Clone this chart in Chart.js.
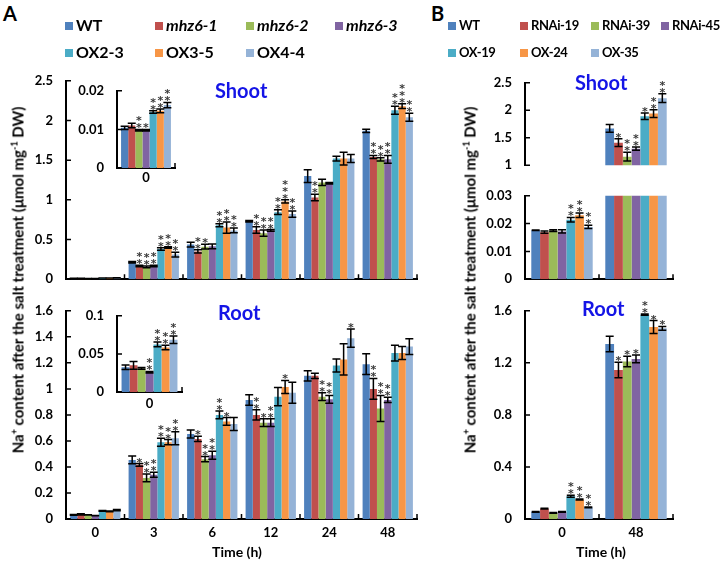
<!DOCTYPE html>
<html><head><meta charset="utf-8">
<script src="https://cdn.jsdelivr.net/npm/chart.js@4.4.1/dist/chart.umd.min.js"></script>
<style>
body{margin:0;background:#fff;}
#page{position:relative;width:722px;height:561px;overflow:hidden;font-family:Lato,'Open Sans',sans-serif;font-weight:bold;color:#000;background:#fff;}
canvas{position:absolute;}
.t{position:absolute;white-space:nowrap;line-height:1;}
.sq{position:absolute;width:8px;height:8px;}
.ytitle{position:absolute;white-space:nowrap;font-size:15px;line-height:1;transform:translate(-50%,-50%) rotate(-90deg);}
sup{font-size:9px;vertical-align:6px;line-height:0;}
</style></head><body>
<div id="page"></div>
<script>
// ---------------- DATA ----------------
const seriesA = ['WT','mhz6-1','mhz6-2','mhz6-3','OX2-3','OX3-5','OX4-4'];
const seriesB = ['WT','RNAi-19','RNAi-39','RNAi-45','OX-19','OX-24','OX-35'];
const timesA = ['0','3','6','12','24','48'];
const timesB = ['0','48'];

// Panel A shoot (rows = series, columns = timesA)
const shootA = [
  [0.0104, 0.214, 0.436, 0.73, 1.30, 1.87],
  [0.0110, 0.167, 0.35, 0.62, 1.03, 1.54],
  [0.0098, 0.155, 0.41, 0.58, 1.22, 1.51],
  [0.0098, 0.167, 0.415, 0.615, 1.21, 1.51],
  [0.0145, 0.38, 0.68, 0.845, 1.52, 2.13],
  [0.0148, 0.40, 0.65, 0.98, 1.52, 2.18],
  [0.0163, 0.31, 0.615, 0.82, 1.52, 2.04]
];
const shootAErr = [
  [0.0004, 0.01, 0.03, 0.01, 0.08, 0.02],
  [0.0006, 0.01, 0.02, 0.04, 0.04, 0.02],
  [0.0002, 0.01, 0.03, 0.04, 0.04, 0.02],
  [0.0002, 0.01, 0.03, 0.01, 0.01, 0.05],
  [0.0003, 0.015, 0.02, 0.03, 0.03, 0.05],
  [0.0005, 0.01, 0.07, 0.02, 0.08, 0.03],
  [0.0007, 0.03, 0.03, 0.04, 0.05, 0.05]
];
const shootAStars = [
  [0,0,0,0,0,0],
  [0,2,2,2,2,2],
  [2,2,1,2,0,2],
  [1,2,0,2,0,2],
  [2,2,2,2,0,2],
  [2,2,2,3,0,3],
  [2,2,2,2,0,2]
];

// Panel A root
const rootA = [
  [0.0325, 0.454, 0.653, 0.915, 1.10, 1.19],
  [0.035, 0.416, 0.615, 0.80, 1.10, 1.00],
  [0.031, 0.316, 0.46, 0.74, 0.94, 0.85],
  [0.026, 0.34, 0.49, 0.74, 0.92, 0.915],
  [0.0625, 0.59, 0.80, 0.94, 1.18, 1.275],
  [0.0585, 0.59, 0.75, 1.015, 1.226, 1.275],
  [0.0685, 0.62, 0.73, 0.97, 1.39, 1.325]
];
const rootAErr = [
  [0.003, 0.03, 0.03, 0.04, 0.04, 0.08],
  [0.005, 0.01, 0.02, 0.04, 0.02, 0.08],
  [0.001, 0.03, 0.02, 0.03, 0.03, 0.10],
  [0.001, 0.02, 0.03, 0.03, 0.03, 0.02],
  [0.003, 0.03, 0.03, 0.07, 0.05, 0.06],
  [0.003, 0.02, 0.03, 0.05, 0.12, 0.05],
  [0.005, 0.05, 0.05, 0.08, 0.07, 0.06]
];
const rootAStars = [
  [0,0,0,0,0,0],
  [0,1,1,2,0,2],
  [0,2,2,1,2,2],
  [2,2,2,2,2,2],
  [2,2,2,0,0,0],
  [2,2,1,1,0,0],
  [2,2,0,0,1,0]
];

// Panel B shoot (columns = timesB)
const shootB = [
  [0.0176, 1.67],
  [0.0169, 1.41],
  [0.0175, 1.155],
  [0.0172, 1.30],
  [0.0214, 1.89],
  [0.0230, 1.94],
  [0.0188, 2.22]
];
const shootBErr = [
  [0.0001, 0.07],[0.0004, 0.07],[0.0003, 0.08],[0.0006, 0.03],
  [0.0008, 0.06],[0.0008, 0.07],[0.0006, 0.08]
];
const shootBStars = [[0,0],[0,1],[0,2],[0,2],[2,1],[2,2],[2,2]];

// Panel B root
const rootB = [
  [0.055, 1.345],
  [0.08, 1.145],
  [0.047, 1.21],
  [0.055, 1.23],
  [0.175, 1.57],
  [0.15, 1.475],
  [0.09, 1.465]
];
const rootBErr = [
  [0.003, 0.06],[0.003, 0.06],[0.002, 0.04],[0.003, 0.03],
  [0.008, 0.005],[0.004, 0.05],[0.003, 0.015]
];
const rootBStars = [[0,0],[0,1],[0,1],[0,1],[2,2],[2,1],[2,1]];

// ---------------- STYLE ----------------
const colors = ['#4F81BD','#C0504D','#9BBB59','#8064A2','#4BACC6','#F79646','#95B3D7'];
const FONT = 'Lato, "Open Sans", sans-serif';
const page = document.getElementById('page');

function addText(html, left, top, size, extra) {
  const d = document.createElement('div');
  d.className = 't';
  d.innerHTML = html;
  d.style.left = left + 'px'; d.style.top = top + 'px'; d.style.fontSize = size + 'px';
  if (extra) Object.assign(d.style, extra);
  page.appendChild(d);
  return d;
}

// ---------------- PLUGIN: error bars, asterisks, inward ticks ----------------
const decor = {
  id: 'decor',
  afterDatasetsDraw(chart, args, opts) {
    const ctx = chart.ctx, y = chart.scales.y, ca = chart.chartArea;
    ctx.save();
    chart.data.datasets.forEach((ds, s) => {
      const meta = chart.getDatasetMeta(s);
      meta.data.forEach((bar, j) => {
        const v = ds.data[j];
        if (v == null || v > y.max || v < y.min) return;
        const k = opts.idx[j];
        const e = opts.err[s][k];
        const yt = y.getPixelForValue(v + e), yb = y.getPixelForValue(Math.max(v - e, y.min));
        ctx.strokeStyle = '#000'; ctx.lineWidth = 1.5;
        ctx.beginPath();
        ctx.moveTo(bar.x, yt); ctx.lineTo(bar.x, yb);
        ctx.moveTo(bar.x - 4, yt); ctx.lineTo(bar.x + 4, yt);
        ctx.moveTo(bar.x - 4, yb); ctx.lineTo(bar.x + 4, yb);
        ctx.stroke();
        if (opts.noStars && opts.noStars.includes(k)) return;
        const n = opts.stars[s][k];
        ctx.fillStyle = '#3a3a3a';
        ctx.font = 'bold 11px "DejaVu Sans"';
        ctx.textAlign = 'center'; ctx.textBaseline = 'alphabetic';
        for (let m = 0; m < n; m++) ctx.fillText('*', bar.x, yt + 2 - m * 7);
      });
    });
    // inward tick marks
    ctx.strokeStyle = '#000'; ctx.lineWidth = 1.5;
    ctx.beginPath();
    y.ticks.forEach((t, i) => {
      const py = y.getPixelForTick(i);
      ctx.moveTo(ca.left, py); ctx.lineTo(ca.left + 5, py);
    });
    if (opts.xTicks) {
      const n = chart.data.labels.length;
      for (let i = 0; i <= n; i++) {
        const px = ca.left + i * (ca.right - ca.left) / n;
        ctx.moveTo(px, ca.bottom); ctx.lineTo(px, ca.bottom - 5);
      }
    }
    ctx.stroke();
    ctx.restore();
  }
};

function makeChart(o) {
  const cv = document.createElement('canvas');
  cv.width = o.w; cv.height = o.h;
  Object.assign(cv.style, {left: o.left + 'px', top: o.top + 'px', width: o.w + 'px', height: o.h + 'px'});
  page.appendChild(cv);
  const datasets = o.series.map((name, s) => ({
    label: name,
    data: o.idx.map(k => {
      const v = o.values[s][k];
      return (o.hideBelow != null && v < o.hideBelow) ? null : v;
    }),
    backgroundColor: colors[s],
    borderWidth: 0,
    categoryPercentage: o.catPct,
    barPercentage: 1,
    clip: 0
  }));
  return new Chart(cv, {
    type: 'bar',
    data: {labels: o.idx.map(k => o.labels[k]), datasets},
    options: {
      responsive: false, animation: false, devicePixelRatio: 1,
      layout: {padding: {left: 0, top: o.padTop, right: o.padRight, bottom: o.padBottom || 0}},
      plugins: {
        legend: {display: false}, tooltip: {enabled: false},
        decor: {err: o.err, stars: o.stars, idx: o.idx, noStars: o.noStars, xTicks: o.xBorder !== false}
      },
      scales: {
        x: {
          z: 1,
          grid: {display: false, drawTicks: false},
          border: {display: o.xBorder !== false, color: '#000', width: 2},
          ticks: {display: !!o.xLabels, padding: o.xPad || 0, color: '#000', font: {family: FONT, size: 13, weight: 'bold'}},
          afterFit: s => { s.height = o.xH; }
        },
        y: {
          z: 1,
          min: o.min, max: o.max,
          grid: {display: false, drawTicks: false},
          border: {color: '#000', width: 2},
          ticks: {stepSize: o.step, padding: 13, color: '#000', font: {family: FONT, size: 13, weight: 'bold'},
            callback: v => String(parseFloat(Number(v).toFixed(4)))},
          afterFit: s => { s.width = o.yW; }
        }
      }
    },
    plugins: [decor]
  });
}

// ---------------- PANEL A ----------------
makeChart({left: 0, top: 60, w: 425, h: 240, yW: 66, padTop: 16, padRight: 8, xH: 10,
  series: seriesA, labels: timesA, idx: [0,1,2,3,4,5], values: shootA, err: shootAErr, stars: shootAStars,
  noStars: [0], min: 0, max: 2.5, step: 0.5, catPct: 0.86, xLabels: false});
makeChart({left: 60, top: 70, w: 125, h: 120, yW: 57, padTop: 13, padRight: 10, xH: 22, xPad: 2,
  series: seriesA, labels: timesA, idx: [0], values: shootA, err: shootAErr, stars: shootAStars,
  min: 0, max: 0.02, step: 0.01, catPct: 0.86, xLabels: true});
makeChart({left: 0, top: 290, w: 425, h: 255, yW: 66, padTop: 15, padRight: 8, xH: 26, xPad: 6,
  series: seriesA, labels: timesA, idx: [0,1,2,3,4,5], values: rootA, err: rootAErr, stars: rootAStars,
  noStars: [0], min: 0, max: 1.6, step: 0.2, catPct: 0.86, xLabels: true});
makeChart({left: 60, top: 295, w: 130, h: 120, yW: 57, padTop: 14, padRight: 8, xH: 23, xPad: 4,
  series: seriesA, labels: timesA, idx: [0], values: rootA, err: rootAErr, stars: rootAStars,
  min: 0, max: 0.1, step: 0.05, catPct: 0.86, xLabels: true});

// ---------------- PANEL B ----------------
makeChart({left: 460, top: 62, w: 222, h: 124, yW: 65, padTop: 17, padRight: 9, xH: 0, padBottom: 10, xBorder: false,
  series: seriesB, labels: timesB, idx: [0,1], values: shootB, err: shootBErr, stars: shootBStars,
  hideBelow: 1, min: 1, max: 2.5, step: 0.5, catPct: 0.83, xLabels: false});
makeChart({left: 460, top: 175, w: 222, h: 125, yW: 65, padTop: 13, padRight: 9, xH: 10,
  series: seriesB, labels: timesB, idx: [0,1], values: shootB, err: shootBErr, stars: shootBStars,
  min: 0, max: 0.03, step: 0.01, catPct: 0.83, xLabels: false});
makeChart({left: 460, top: 290, w: 222, h: 255, yW: 65, padTop: 17, padRight: 9, xH: 26, xPad: 6,
  series: seriesB, labels: timesB, idx: [0,1], values: rootB, err: rootBErr, stars: rootBStars,
  min: 0, max: 1.6, step: 0.4, catPct: 0.83, xLabels: true});

// ---------------- TEXT ----------------
addText('A', 3, 3, 20);
addText('B', 431, 3, 20);
function legend(names, xs, rows, size, italicIdx, spacing) {
  names.forEach((n, i) => {
    const r = i < 4 ? 0 : 1, c = i < 4 ? i : i - 4;
    const sq = document.createElement('div');
    sq.className = 'sq';
    sq.style.background = colors[i];
    sq.style.left = xs[c] + 'px'; sq.style.top = (rows[r] - 4) + 'px';
    page.appendChild(sq);
    const extra = {letterSpacing: spacing + 'px'};
    if (italicIdx.includes(i)) extra.fontStyle = 'italic';
    addText(n, xs[c] + 11, rows[r] - size / 2 - 1, size, extra);
  });
}
legend(seriesA, [65, 155, 246, 335], [26, 53], 16, [1,2,3], 0);
legend(seriesB, [448, 520, 591, 661], [26, 53], 13, [], -0.4);

addText('Shoot', 215, 80, 20, {color: '#1414e6'});
addText('Root', 218, 302, 20, {color: '#1414e6'});
addText('Shoot', 575, 72, 20, {color: '#1414e6'});
addText('Root', 582, 298, 20, {color: '#1414e6'});

const yt = 'Na<sup>+</sup> content after the salt treatment (μmol mg<sup>-1</sup> DW)';
const ya = addText(yt, 18, 280, 15); ya.className = 'ytitle'; ya.style.left = '18px'; ya.style.top = '280px';
const yb = addText(yt, 470, 280, 15); yb.className = 'ytitle'; yb.style.left = '470px'; yb.style.top = '280px';
const ta = addText('Time (h)', 237, 552, 14); ta.style.transform = 'translate(-50%,-50%)';
const tb = addText('Time (h)', 601, 552, 14); tb.style.transform = 'translate(-50%,-50%)';
</script>
</body></html>
